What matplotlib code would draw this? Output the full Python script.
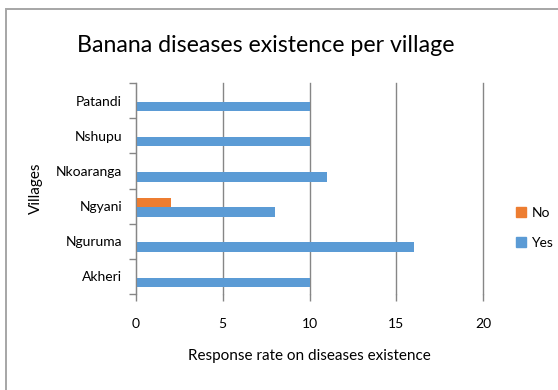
import matplotlib
matplotlib.use('Agg')
import matplotlib.pyplot as plt
from matplotlib.patches import Rectangle, Patch
import numpy as np

plt.rcParams['font.family'] = ['Lato', 'DejaVu Sans']

# villages listed bottom to top
villages = ['Akheri', 'Nguruma', 'Ngyani', 'Nkoaranga', 'Nshupu', 'Patandi']
yes_counts = [10, 16, 8, 11, 10, 10]
no_counts = [0, 0, 2, 0, 0, 0]
x_ticks = [0, 5, 10, 15, 20]

blue = '#5B9BD5'
orange = '#ED7D31'

fig = plt.figure(figsize=(5.58, 3.9), dpi=100)
ax = fig.add_axes([136 / 558, 1 - 294 / 390, (483 - 136) / 558, (294 - 83) / 390])

y = np.arange(len(villages))
h = 0.27
ax.barh(y + 0.1, no_counts, height=h, color=orange, label='No')
ax.barh(y - 0.17, yes_counts, height=h, color=blue, label='Yes')
ax.set_ylim(-0.5, len(villages) - 0.5)

ax.set_xlim(0, 20)
ax.set_xticks(x_ticks)
ax.set_xticklabels([str(t) for t in x_ticks])
ax.xaxis.grid(True, color='#868686', linewidth=1)
for gl in ax.get_xgridlines():
    gl.set_clip_on(False)
ax.set_axisbelow(True)

# category boundaries get the tick marks, names sit between them
ax.set_yticks(np.arange(len(villages) + 1) - 0.5)
ax.set_yticklabels([])
ax.set_yticks(y, minor=True)
ax.set_yticklabels(villages, minor=True)
ax.tick_params(axis='y', which='major', length=5, color='#868686', width=1)
ax.tick_params(axis='y', which='minor', length=0, labelsize=10, pad=10)
ax.tick_params(axis='x', length=5, color='#868686', width=1, labelsize=10, pad=12)

for s in ['top', 'right', 'bottom']:
    ax.spines[s].set_visible(False)
ax.spines['left'].set_color('#868686')

ax.set_xlabel('Response rate on diseases existence', fontsize=11, labelpad=14)
ax.set_ylabel('Villages', fontsize=11, labelpad=9)
fig.text(266 / 558, 1 - 45 / 390, 'Banana diseases existence per village',
         ha='center', va='center', fontsize=16.7)

handles = [Patch(color=orange, label='No'), Patch(color=blue, label='Yes')]
fig.legend(handles=handles, loc='center left', bbox_to_anchor=(516 / 558, 1 - 228 / 390),
           frameon=False, fontsize=10, handlelength=0.7, handleheight=0.7,
           labelspacing=1.3, handletextpad=0.4, borderpad=0, borderaxespad=0)

# chart frame: only the top and left edges fall inside the image
fig.patches.append(Rectangle((6 / 558, -0.1), 1.1, 1.1 - 9.5 / 390, transform=fig.transFigure,
                             fill=False, edgecolor='#a6a6a6', linewidth=1.4))

fig.savefig('out.png', dpi=100)
